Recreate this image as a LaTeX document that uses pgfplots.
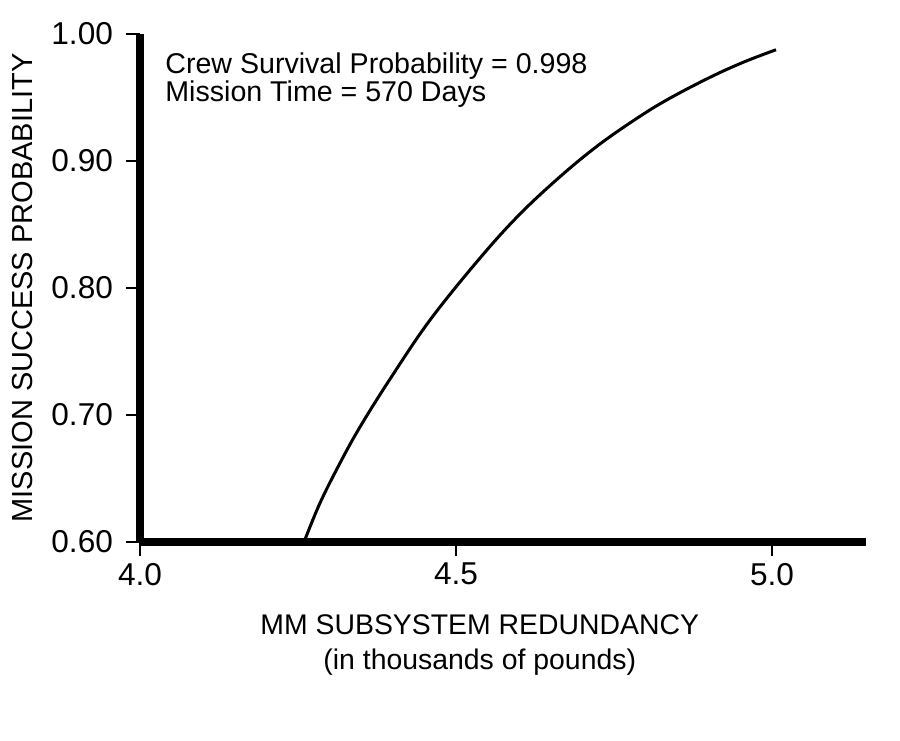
\documentclass[border=0pt]{standalone}
\usepackage{pgfplots}
\pgfplotsset{compat=1.18}
\usepackage{fontspec}
\setmainfont{Liberation Sans}
\begin{document}
\begin{tikzpicture}
\useasboundingbox[fill=white] (0,0) rectangle (450pt,370pt);
\begin{axis}[
  at={(70pt,99pt)}, anchor=south west,
  width=363pt, height=254pt, scale only axis,
  xmin=4.0, xmax=5.1487, ymin=0.60, ymax=1.00,
  axis lines=left,
  axis line style={-, line width=4pt, black},
  xtick={4.0,4.5,5.0}, ytick={0.6,0.7,0.8,0.9,1.0},
  tick align=outside, major tick length=7pt,
  tick style={black, line width=0.6pt},
  /pgf/number format/assume math mode=true,
  xticklabel style={/pgf/number format/.cd, fixed, fixed zerofill, precision=1},
  yticklabel style={xshift=-3pt, /pgf/number format/.cd, fixed, fixed zerofill, precision=2},
  ticklabel style={font=\fontsize{15.8}{18}\selectfont},
  xlabel={MM SUBSYSTEM REDUNDANCY\\(in thousands of pounds)},
  xlabel style={at={(axis description cs:0.468,0)}, anchor=north, yshift=-36pt, inner sep=0pt, align=center, font=\fontsize{14.2}{17.5}\selectfont},
  ylabel={MISSION SUCCESS PROBABILITY},
  ylabel style={at={(axis description cs:-0.1625,0.5)}, anchor=center, inner sep=0pt, font=\fontsize{14.5}{16}\selectfont},
  clip=false,
]
\addplot[black, line width=1.5pt, smooth, tension=0.6] coordinates {
(4.2595,0.6000) (4.2848,0.6307) (4.3165,0.6622) (4.3481,0.6906) (4.3956,0.7283)
(4.4589,0.7748) (4.5380,0.8236) (4.6013,0.8583) (4.6677,0.8890) (4.7278,0.9134)
(4.7911,0.9352) (4.8386,0.9495) (4.9019,0.9659) (4.9557,0.9780) (5.0063,0.9876)
};
\node[anchor=north west, inner sep=0pt, align=left, font=\fontsize{14.3}{14}\selectfont]
  at (axis description cs:0,1) [xshift=12.5pt, yshift=-9pt]
  {Crew Survival Probability = 0.998\\Mission Time = 570 Days};
\end{axis}
\end{tikzpicture}
\end{document}
